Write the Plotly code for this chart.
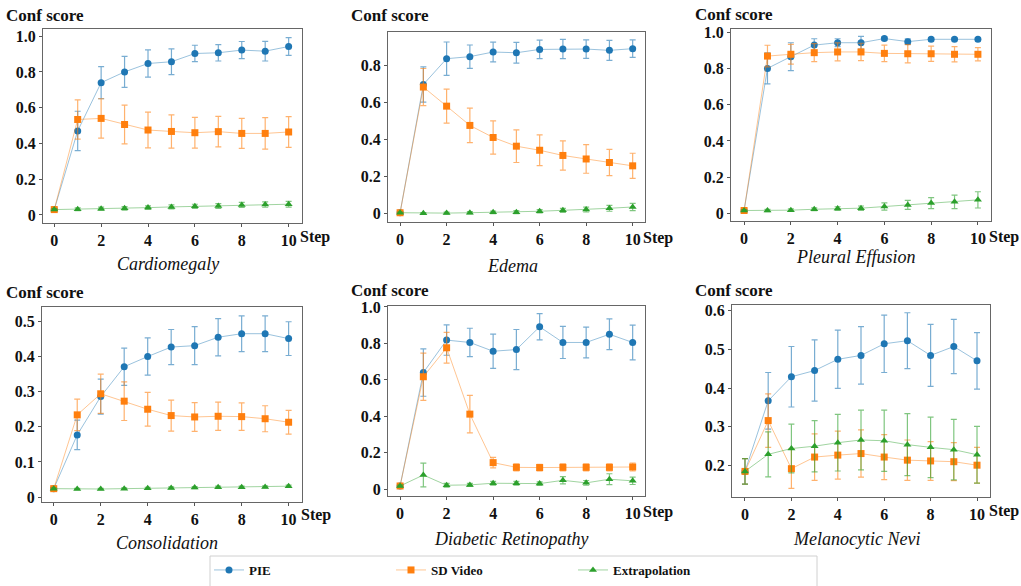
import plotly.graph_objects as go

# ---------------- data ----------------
steps = list(range(11))
x_tick_vals = [0, 2, 4, 6, 8, 10]
x_tick_text = ["0", "2", "4", "6", "8", "10"]

panel_titles = ["Cardiomegaly", "Edema", "Pleural Effusion",
                "Consolidation", "Diabetic Retinopathy", "Melanocytic Nevi"]
series_names = ["PIE", "SD Video", "Extrapolation"]

cardio_pie = [0.03, 0.47, 0.74, 0.80, 0.847, 0.857, 0.903, 0.907, 0.922, 0.916, 0.942]
cardio_pie_err = [0.005, 0.11, 0.09, 0.087, 0.076, 0.072, 0.046, 0.046, 0.048, 0.055, 0.05]
cardio_sd = [0.03, 0.534, 0.54, 0.506, 0.475, 0.467, 0.46, 0.466, 0.456, 0.456, 0.464]
cardio_sd_err = [0.005, 0.11, 0.11, 0.108, 0.1, 0.093, 0.086, 0.085, 0.084, 0.088, 0.086]
cardio_ex = [0.03, 0.032, 0.035, 0.037, 0.041, 0.045, 0.048, 0.05, 0.056, 0.058, 0.06]
cardio_ex_err = [0.005, 0.008, 0.009, 0.01, 0.01, 0.011, 0.012, 0.013, 0.014, 0.015, 0.016]

edema_pie = [0.005, 0.697, 0.836, 0.847, 0.872, 0.868, 0.886, 0.888, 0.888, 0.881, 0.89]
edema_pie_err = [0.004, 0.095, 0.09, 0.063, 0.053, 0.056, 0.05, 0.052, 0.05, 0.054, 0.047]
edema_sd = [0.005, 0.683, 0.58, 0.476, 0.411, 0.364, 0.342, 0.314, 0.295, 0.276, 0.258]
edema_sd_err = [0.004, 0.1, 0.092, 0.093, 0.09, 0.088, 0.083, 0.079, 0.077, 0.071, 0.068]
edema_ex = [0.005, 0.002, 0.003, 0.005, 0.007, 0.008, 0.013, 0.018, 0.022, 0.029, 0.036]
edema_ex_err = [0.004, 0.004, 0.005, 0.006, 0.007, 0.008, 0.009, 0.011, 0.013, 0.016, 0.02]

pleural_pie = [0.015, 0.802, 0.867, 0.931, 0.944, 0.944, 0.967, 0.95, 0.963, 0.963, 0.963]
pleural_pie_err = [0.004, 0.086, 0.077, 0.035, 0.022, 0.035, 0.01, 0.015, 0.01, 0.008, 0.008]
pleural_sd = [0.015, 0.87, 0.88, 0.889, 0.893, 0.893, 0.885, 0.883, 0.883, 0.88, 0.88]
pleural_sd_err = [0.004, 0.06, 0.055, 0.05, 0.05, 0.048, 0.046, 0.05, 0.042, 0.042, 0.037]
pleural_ex = [0.015, 0.015, 0.017, 0.022, 0.026, 0.028, 0.037, 0.046, 0.056, 0.063, 0.074]
pleural_ex_err = [0.005, 0.006, 0.007, 0.008, 0.01, 0.012, 0.02, 0.025, 0.03, 0.037, 0.045]

consol_pie = [0.024, 0.177, 0.286, 0.371, 0.4, 0.427, 0.431, 0.455, 0.465, 0.465, 0.451]
consol_pie_err = [0.003, 0.042, 0.05, 0.053, 0.053, 0.05, 0.054, 0.053, 0.051, 0.051, 0.048]
consol_sd = [0.024, 0.234, 0.294, 0.273, 0.25, 0.232, 0.228, 0.23, 0.229, 0.223, 0.213]
consol_sd_err = [0.003, 0.045, 0.056, 0.055, 0.048, 0.044, 0.041, 0.04, 0.039, 0.037, 0.034]
consol_ex = [0.024, 0.023, 0.023, 0.024, 0.025, 0.026, 0.027, 0.028, 0.028, 0.029, 0.031]
consol_ex_err = [0.002, 0.002, 0.002, 0.002, 0.003, 0.003, 0.003, 0.003, 0.003, 0.003, 0.003]

dr_pie = [0.018, 0.64, 0.818, 0.805, 0.757, 0.766, 0.891, 0.805, 0.805, 0.85, 0.805]
dr_pie_err = [0.005, 0.13, 0.083, 0.078, 0.094, 0.11, 0.072, 0.088, 0.084, 0.084, 0.095]
dr_sd = [0.018, 0.617, 0.776, 0.412, 0.146, 0.12, 0.119, 0.12, 0.12, 0.12, 0.122]
dr_sd_err = [0.005, 0.13, 0.084, 0.103, 0.029, 0.02, 0.018, 0.02, 0.02, 0.02, 0.022]
dr_ex = [0.018, 0.078, 0.022, 0.024, 0.033, 0.033, 0.031, 0.049, 0.035, 0.055, 0.046]
dr_ex_err = [0.005, 0.065, 0.01, 0.008, 0.01, 0.01, 0.01, 0.02, 0.013, 0.03, 0.02]

mel_pie = [0.185, 0.367, 0.429, 0.445, 0.474, 0.484, 0.514, 0.522, 0.484, 0.507, 0.47]
mel_pie_err = [0.033, 0.073, 0.078, 0.079, 0.075, 0.074, 0.074, 0.072, 0.08, 0.07, 0.073]
mel_sd = [0.185, 0.316, 0.192, 0.222, 0.227, 0.231, 0.222, 0.214, 0.212, 0.21, 0.201]
mel_sd_err = [0.033, 0.069, 0.051, 0.06, 0.062, 0.061, 0.058, 0.052, 0.05, 0.049, 0.046]
mel_ex = [0.185, 0.229, 0.244, 0.25, 0.259, 0.266, 0.264, 0.254, 0.247, 0.241, 0.228]
mel_ex_err = [0.033, 0.058, 0.063, 0.066, 0.073, 0.077, 0.079, 0.08, 0.078, 0.078, 0.073]

cardio_yticks = [0, 0.2, 0.4, 0.6, 0.8, 1.0]
cardio_ylabels = ["0", "0.2", "0.4", "0.6", "0.8", "1.0"]
edema_yticks = [0, 0.2, 0.4, 0.6, 0.8]
edema_ylabels = ["0", "0.2", "0.4", "0.6", "0.8"]
pleural_yticks = [0, 0.2, 0.4, 0.6, 0.8, 1.0]
pleural_ylabels = ["0", "0.2", "0.4", "0.6", "0.8", "1.0"]
consol_yticks = [0, 0.1, 0.2, 0.3, 0.4, 0.5]
consol_ylabels = ["0", "0.1", "0.2", "0.3", "0.4", "0.5"]
dr_yticks = [0, 0.2, 0.4, 0.6, 0.8, 1.0]
dr_ylabels = ["0", "0.2", "0.4", "0.6", "0.8", "1.0"]
mel_yticks = [0.2, 0.3, 0.4, 0.5, 0.6]
mel_ylabels = ["0.2", "0.3", "0.4", "0.5", "0.6"]

# ---------------- layout / style ----------------
W, H = 1021, 586
colors = ["#1f77b4", "#ff7f0e", "#2ca02c"]
line_rgba = ["rgba(31,119,180,0.45)", "rgba(255,127,14,0.45)", "rgba(44,160,44,0.45)"]
err_rgba = ["rgba(31,119,180,0.6)", "rgba(255,127,14,0.6)", "rgba(44,160,44,0.6)"]
symbols = ["circle", "square", "triangle-up"]

panels = [
    dict(series=[(cardio_pie, cardio_pie_err), (cardio_sd, cardio_sd_err), (cardio_ex, cardio_ex_err)],
         yt=(cardio_yticks, cardio_ylabels), xr=[-0.48, 10.57], yr=[-0.045, 1.04],
         box=(43, 302, 29, 223), conf=(45, 15), step=(315, 237), title=(168, 264)),
    dict(series=[(edema_pie, edema_pie_err), (edema_sd, edema_sd_err), (edema_ex, edema_ex_err)],
         yt=(edema_yticks, edema_ylabels), xr=[-0.52, 10.53], yr=[-0.045, 0.98],
         box=(388, 645, 32, 222), conf=(390, 16), step=(658, 238), title=(512, 266)),
    dict(series=[(pleural_pie, pleural_pie_err), (pleural_sd, pleural_sd_err), (pleural_ex, pleural_ex_err)],
         yt=(pleural_yticks, pleural_ylabels), xr=[-0.56, 10.56], yr=[-0.043, 1.02],
         box=(731, 991, 29, 221), conf=(734, 14), step=(1004, 237), title=(856, 257)),
    dict(series=[(consol_pie, consol_pie_err), (consol_sd, consol_sd_err), (consol_ex, consol_ex_err)],
         yt=(consol_yticks, consol_ylabels), xr=[-0.5, 10.57], yr=[-0.014, 0.541],
         box=(42, 302, 307, 502), conf=(45, 292), step=(316, 515), title=(167, 543)),
    dict(series=[(dr_pie, dr_pie_err), (dr_sd, dr_sd_err), (dr_ex, dr_ex_err)],
         yt=(dr_yticks, dr_ylabels), xr=[-0.52, 10.53], yr=[-0.037, 1.005],
         box=(388, 645, 306, 496), conf=(390, 290), step=(658, 512), title=(511, 539)),
    dict(series=[(mel_pie, mel_pie_err), (mel_sd, mel_sd_err), (mel_ex, mel_ex_err)],
         yt=(mel_yticks, mel_ylabels), xr=[-0.56, 10.56], yr=[0.119, 0.614],
         box=(732, 990, 305, 497), conf=(734, 290), step=(1004, 511), title=(856, 539)),
]

fig = go.Figure()
annotations = []
serif = "Liberation Serif"
tick_font = dict(family=serif, size=16, color="#111111")


def bold(labels):
    return [f"<b>{t}</b>" for t in labels]


for i, p in enumerate(panels):
    n = i + 1
    xa = "x" if n == 1 else f"x{n}"
    ya = "y" if n == 1 else f"y{n}"
    for k, (vals, errs) in enumerate(p["series"]):
        fig.add_trace(go.Scatter(
            x=steps, y=vals, xaxis=xa, yaxis=ya,
            mode="lines+markers", name=f"<b>{series_names[k]}</b>",
            legendgroup=series_names[k], showlegend=(n == 1),
            line=dict(color=line_rgba[k], width=1),
            marker=dict(color=colors[k], symbol=symbols[k], size=7),
            error_y=dict(type="data", array=errs, visible=True,
                         color=err_rgba[k], thickness=1.2, width=3),
        ))
    x0, x1, y0, y1 = p["box"]
    axis_common = dict(showline=True, mirror=True, linecolor="#666666", linewidth=1,
                       ticks="outside", ticklen=3, tickcolor="#555555",
                       showgrid=False, zeroline=False, tickfont=tick_font,
                       automargin=False)
    fig.layout[f"xaxis{'' if n == 1 else n}"] = dict(
        domain=[x0 / W, x1 / W], anchor=ya, range=p["xr"],
        tickvals=x_tick_vals, ticktext=bold(x_tick_text), **axis_common)
    fig.layout[f"yaxis{'' if n == 1 else n}"] = dict(
        domain=[1 - y1 / H, 1 - y0 / H], anchor=xa, range=p["yr"],
        tickvals=p["yt"][0], ticktext=bold(p["yt"][1]), **axis_common)
    cx, cy = p["conf"]
    annotations.append(dict(text="<b>Conf score</b>", x=cx / W, y=1 - cy / H, xref="paper", yref="paper",
                            showarrow=False, xanchor="center", yanchor="middle",
                            font=dict(family=serif, size=17, color="#111111")))
    sx, sy = p["step"]
    annotations.append(dict(text="<b>Step</b>", x=sx / W, y=1 - sy / H, xref="paper", yref="paper",
                            showarrow=False, xanchor="center", yanchor="middle",
                            font=dict(family=serif, size=16, color="#111111")))
    tx, ty = p["title"]
    annotations.append(dict(text=f"<i>{panel_titles[i]}</i>", x=tx / W, y=1 - ty / H,
                            xref="paper", yref="paper", showarrow=False,
                            xanchor="center", yanchor="middle",
                            font=dict(family=serif, size=18, color="#111111")))

fig.update_layout(
    width=W, height=H, margin=dict(l=0, r=0, t=0, b=0, autoexpand=False),
    paper_bgcolor="white", plot_bgcolor="white",
    annotations=annotations,
    shapes=[dict(type="rect", xref="paper", yref="paper",
                 x0=210 / W, x1=817 / W, y0=-0.02, y1=1 - 556 / H,
                 line=dict(color="#d0d0d0", width=1), fillcolor="rgba(0,0,0,0)")],
    legend=dict(orientation="h", x=209 / W, y=1 - 555 / H, xanchor="left", yanchor="top",
                entrywidthmode="pixels", entrywidth=137,
                bgcolor="rgba(0,0,0,0)", borderwidth=0,
                font=dict(family=serif, size=13, color="#111111")),
)

fig.write_html("out.html", config={"displayModeBar": False},
               post_script="document.body.style.margin='0';")
